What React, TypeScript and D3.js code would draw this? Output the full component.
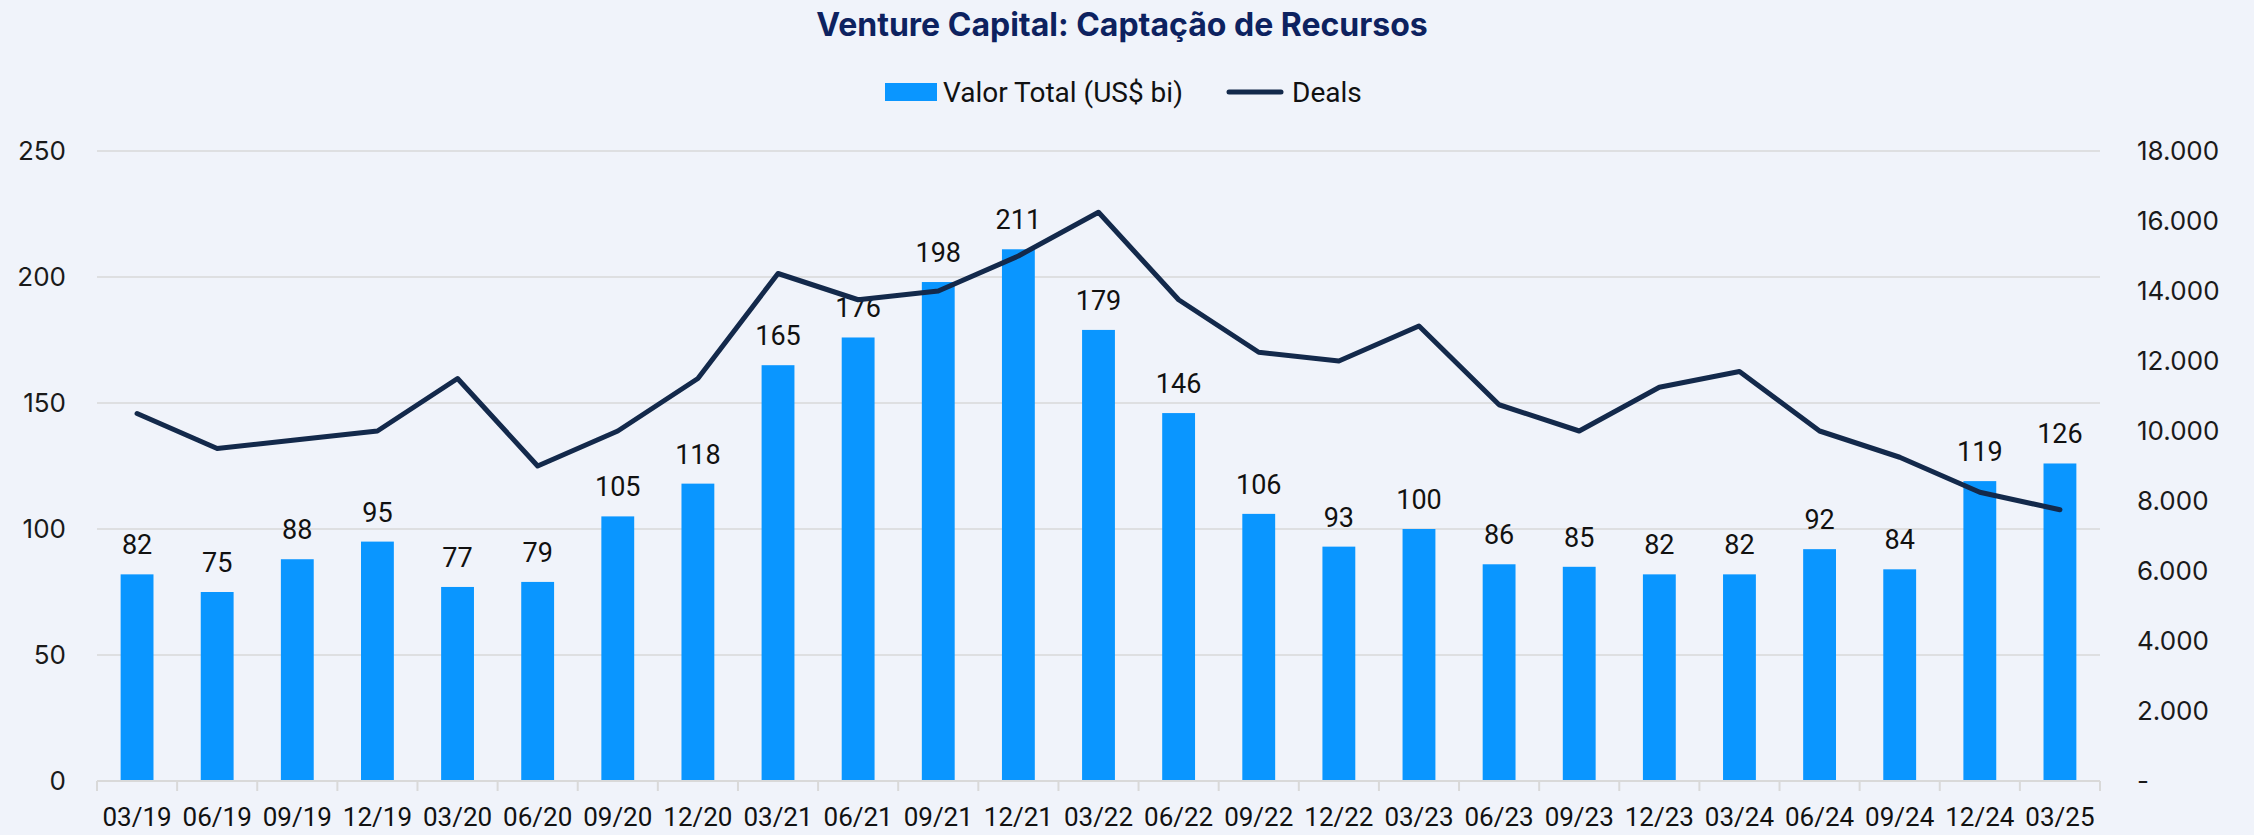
import React from 'react';
import * as d3 from 'd3';

// quarters on the x axis
const quarters = [
  '03/19', '06/19', '09/19', '12/19', '03/20', '06/20', '09/20', '12/20',
  '03/21', '06/21', '09/21', '12/21', '03/22', '06/22', '09/22', '12/22',
  '03/23', '06/23', '09/23', '12/23', '03/24', '06/24', '09/24', '12/24', '03/25',
];
// Valor Total (US$ bi) - bars, left axis
const valorTotal = [
  82, 75, 88, 95, 77, 79, 105, 118, 165, 176, 198, 211, 179, 146, 106, 93,
  100, 86, 85, 82, 82, 92, 84, 119, 126,
];
// Deals - line, right axis
const deals = [
  10500, 9500, 9750, 10000, 11500, 9000, 10000, 11500, 14500, 13750, 14000, 15000,
  16250, 13750, 12250, 12000, 13000, 10750, 10000, 11250, 11700, 10000, 9250, 8250, 7750,
];
const leftTicks = [0, 50, 100, 150, 200, 250];
const rightTicks = [0, 2000, 4000, 6000, 8000, 10000, 12000, 14000, 16000, 18000];

const W = 2254, H = 835;
const plotL = 97, plotR = 2100, plotT = 151, plotB = 781;

const barColor = '#0a96ff';
const lineColor = '#13294b';
const gridColor = '#d9d9d9';
const textFont = 'Roboto, sans-serif';
const axisFont = 'Inter, sans-serif';

const ptBR = d3.formatLocale({ decimal: ',', thousands: '.', grouping: [3], currency: ['', ''] });
const fmtThousands = ptBR.format(',.0f');

export default function App() {
  const x = d3.scaleBand<string>().domain(quarters).range([plotL, plotR]).padding(0);
  const yL = d3.scaleLinear().domain([0, 250]).range([plotB, plotT]);
  const yR = d3.scaleLinear().domain([0, 18000]).range([plotB, plotT]);
  const bw = x.bandwidth() * 0.41;
  const cx = (q: string) => (x(q) as number) + x.bandwidth() / 2;

  const line = d3.line<number>()
    .x((d, i) => cx(quarters[i]))
    .y(d => yR(d));

  const tickXs = quarters.map(q => x(q) as number).concat([plotR]);

  return (
    <div style={{ position: 'absolute', left: 0, top: 0 }}>
      <svg width={W} height={H} style={{ display: 'block', background: '#f0f3fa' }}>
        <text x={1122} y={36} textAnchor="middle" fontFamily={axisFont} fontWeight={700}
          fontSize={32} fill="#0d2260">Venture Capital: Captação de Recursos</text>

        {/* legend */}
        <rect x={885} y={83} width={52} height={18} fill={barColor} />
        <text x={943} y={102} fontFamily={textFont} fontSize={28} fill="#111">Valor Total (US$ bi)</text>
        <line x1={1229} x2={1281} y1={92} y2={92} stroke={lineColor} strokeWidth={5} strokeLinecap="round" />
        <text x={1292} y={102} fontFamily={textFont} fontSize={28} fill="#111">Deals</text>

        {/* grid */}
        {leftTicks.filter(t => t > 0).map(t => (
          <line key={t} x1={plotL} x2={plotR} y1={yL(t)} y2={yL(t)} stroke={gridColor} strokeWidth={1.5} />
        ))}

        {/* left axis */}
        {leftTicks.map(t => (
          <text key={t} x={66} y={yL(t)} dy="0.36em" textAnchor="end" fontFamily={axisFont}
            fontSize={26} fill="#1a1a1a">{t}</text>
        ))}
        {/* right axis */}
        {rightTicks.map(t => (
          <text key={t} x={2137} y={yR(t)} dy="0.36em" textAnchor="start" fontFamily={axisFont}
            fontSize={26} fill="#1a1a1a">{t === 0 ? '-' : fmtThousands(t)}</text>
        ))}

        {/* bars */}
        {quarters.map((q, i) => (
          <g key={q}>
            <rect x={cx(q) - bw / 2} y={yL(valorTotal[i])} width={bw}
              height={plotB - yL(valorTotal[i])} fill={barColor} />
            <text x={cx(q)} y={yL(valorTotal[i]) - 20} textAnchor="middle" fontFamily={textFont}
              fontSize={27} fill="#111">{valorTotal[i]}</text>
          </g>
        ))}

        {/* x axis */}
        <line x1={plotL} x2={plotR} y1={plotB} y2={plotB} stroke={gridColor} strokeWidth={2} />
        {tickXs.map((tx, i) => (
          <line key={i} x1={tx} x2={tx} y1={plotB} y2={plotB + 10} stroke={gridColor} strokeWidth={2} />
        ))}
        {quarters.map(q => (
          <text key={q} x={cx(q)} y={826} textAnchor="middle" fontFamily={textFont}
            fontSize={26} fill="#111">{q}</text>
        ))}

        {/* deals line */}
        <path d={line(deals) || ''} fill="none" stroke={lineColor} strokeWidth={5}
          strokeLinejoin="round" strokeLinecap="round" />
      </svg>
    </div>
  );
}
